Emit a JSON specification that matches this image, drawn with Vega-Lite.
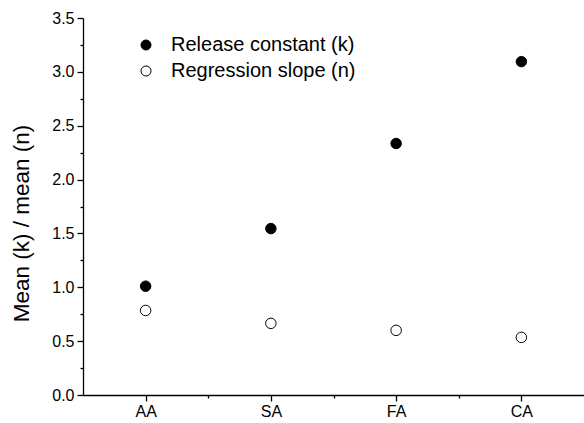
{
  "$schema": "https://vega.github.io/schema/vega-lite/v6.json",
  "autosize": {"type": "none"},
  "padding": {"left": 83, "top": 18, "right": 0, "bottom": 28},
  "width": 501,
  "height": 377,
  "config": {
    "view": {"stroke": null},
    "font": "Liberation Sans",
    "axis": {"grid": false, "domainColor": "black", "tickColor": "black", "labelColor": "black", "titleColor": "black", "labelFont": "Liberation Sans", "titleFont": "Liberation Sans", "domainWidth": 1.3, "tickWidth": 1.3}
  },
  "data": {"values": [
    {"x": 1, "group": "AA", "series": "Release constant (k)", "value": 1.01},
    {"x": 2, "group": "SA", "series": "Release constant (k)", "value": 1.545},
    {"x": 3, "group": "FA", "series": "Release constant (k)", "value": 2.335},
    {"x": 4, "group": "CA", "series": "Release constant (k)", "value": 3.095},
    {"x": 1, "group": "AA", "series": "Regression slope (n)", "value": 0.785},
    {"x": 2, "group": "SA", "series": "Regression slope (n)", "value": 0.665},
    {"x": 3, "group": "FA", "series": "Regression slope (n)", "value": 0.6},
    {"x": 4, "group": "CA", "series": "Regression slope (n)", "value": 0.535}
  ]},
  "mark": {"type": "point", "filled": true, "stroke": "black", "strokeWidth": 1, "size": 110, "opacity": 1},
  "encoding": {
    "x": {"field": "x", "type": "quantitative", "scale": {"domain": [0.5, 4.5], "nice": false, "zero": false},
          "axis": {"title": null, "values": [1, 1.5, 2, 2.5, 3, 3.5, 4],
                   "labelExpr": "datum.value == 1 ? 'AA' : datum.value == 2 ? 'SA' : datum.value == 3 ? 'FA' : datum.value == 4 ? 'CA' : ''",
                   "labelFontSize": 16, "labelPadding": 2,
                   "tickSize": {"condition": {"test": "datum.value % 1 != 0", "value": 3}, "value": 6}}},
    "y": {"field": "value", "type": "quantitative", "scale": {"domain": [0, 3.5], "nice": false},
          "axis": {"title": "Mean (k) / mean (n)", "values": [0, 0.25, 0.5, 0.75, 1, 1.25, 1.5, 1.75, 2, 2.25, 2.5, 2.75, 3, 3.25, 3.5],
                   "labelExpr": "datum.value % 0.5 == 0 ? format(datum.value, '.1f') : ''",
                   "labelFontSize": 16, "labelPadding": 3,
                   "tickSize": {"condition": {"test": "datum.value % 0.5 != 0", "value": 3}, "value": 6},
                   "titleFontSize": 22.5, "titleFontWeight": "normal", "titleX": -50, "titleY": 205}},
    "fill": {"field": "series", "type": "nominal",
             "scale": {"domain": ["Release constant (k)", "Regression slope (n)"], "range": ["black", "white"]},
             "legend": {"title": null, "orient": "none", "legendX": 53, "legendY": 17, "labelFontSize": 20, "labelLimit": 400, "labelFont": "Liberation Sans", "labelColor": "black", "symbolType": "circle", "symbolSize": 100, "symbolStrokeColor": "black", "symbolStrokeWidth": 1, "labelOffset": 15, "rowPadding": 6}}
  }
}
